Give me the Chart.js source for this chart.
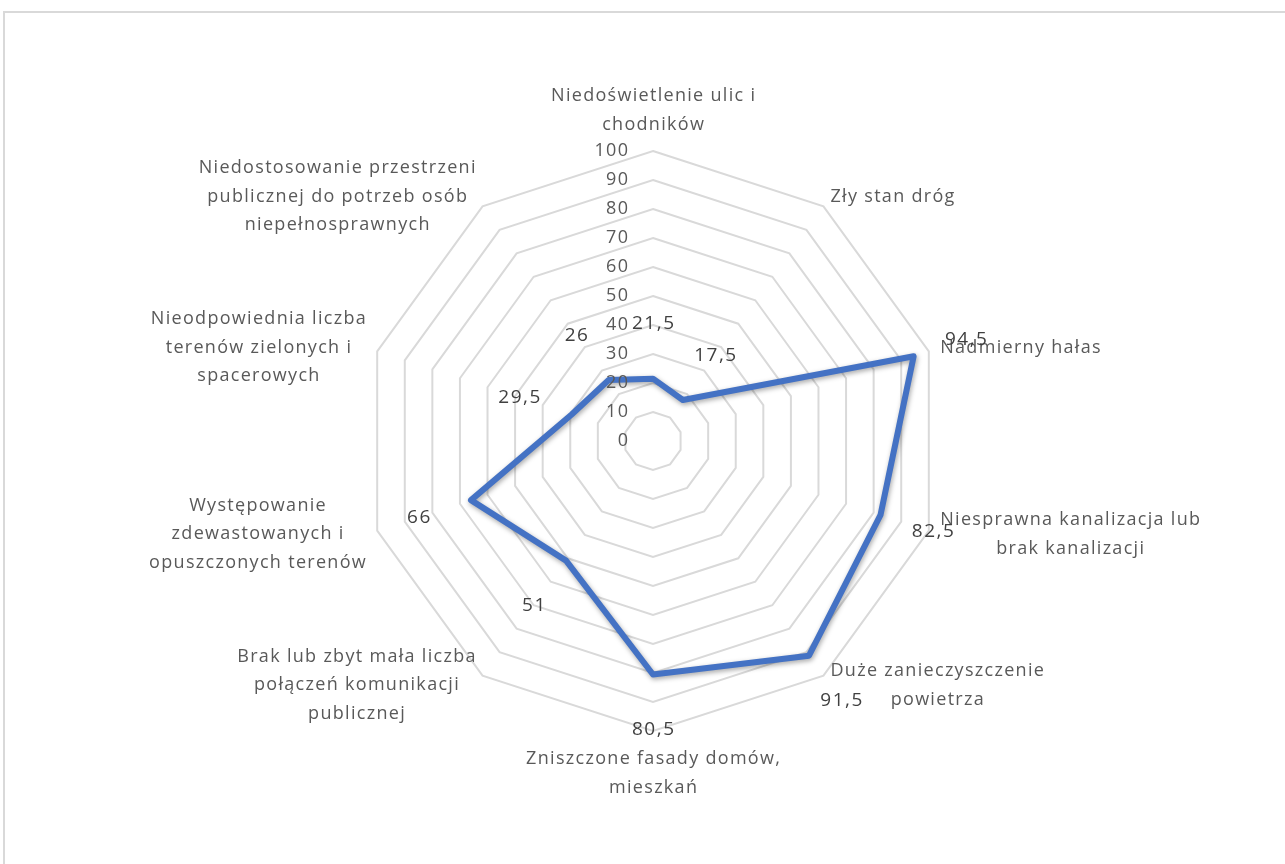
<!DOCTYPE html>
<html>
<head>
<meta charset="utf-8">
<script src="https://cdn.jsdelivr.net/npm/chart.js@4.4.1/dist/chart.umd.min.js"></script>
<style>
  html, body { margin: 0; padding: 0; background: #fff; }
  #wrap { position: relative; width: 1285px; height: 864px; overflow: hidden; }
  #frame { position: absolute; left: 3px; top: 11px; width: 1400px; height: 1000px; border: 2px solid #d9d9d9; box-sizing: border-box; }
  canvas { position: absolute; left: 0; top: 0; }
</style>
</head>
<body>
<div id="wrap">
  <div id="frame"></div>
  <canvas id="c" width="1285" height="864"></canvas>
</div>
<script>
const categories = [
  ["Niedoświetlenie ulic i", "chodników"],
  ["Zły stan dróg"],
  ["Nadmierny hałas"],
  ["Niesprawna kanalizacja lub", "brak kanalizacji"],
  ["Duże zanieczyszczenie", "powietrza"],
  ["Zniszczone fasady domów,", "mieszkań"],
  ["Brak lub zbyt mała liczba", "połączeń komunikacji", "publicznej"],
  ["Występowanie", "zdewastowanych i", "opuszczonych terenów"],
  ["Nieodpowiednia liczba", "terenów zielonych i", "spacerowych"],
  ["Niedostosowanie przestrzeni", "publicznej do potrzeb osób", "niepełnosprawnych"]
];
const values = [21.5, 17.5, 94.5, 82.5, 91.5, 80.5, 51, 66, 29.5, 26];
const tickValues = [0, 10, 20, 30, 40, 50, 60, 70, 80, 90, 100];

const FONT = '"Open Sans", "Liberation Sans", sans-serif';

function drawSpaced(ctx, text, x, y, align, spacing) {
  // draws text with letter spacing, aligned 'left' | 'center' | 'right'
  ctx.letterSpacing = spacing + 'px';
  const w = ctx.measureText(text).width - spacing;
  let sx = x;
  if (align === 'center') sx = x - w / 2;
  else if (align === 'right') sx = x - w;
  ctx.textAlign = 'left';
  ctx.fillText(text, sx, y);
  ctx.letterSpacing = '0px';
  return w;
}
function spacedWidth(ctx, text, spacing) {
  ctx.letterSpacing = spacing + 'px';
  const w = ctx.measureText(text).width - spacing;
  ctx.letterSpacing = '0px';
  return w;
}

const labelsPlugin = {
  id: 'customLabels',
  beforeDatasetDraw(chart) {
    const ctx = chart.ctx;
    ctx.save();
    ctx.shadowColor = 'rgba(0,0,0,0.35)';
    ctx.shadowBlur = 5;
    ctx.shadowOffsetX = 1;
    ctx.shadowOffsetY = 2;
  },
  afterDatasetDraw(chart) {
    chart.ctx.restore();
  },
  afterDraw(chart) {
    const ctx = chart.ctx;
    const scale = chart.scales.r;
    ctx.save();
    ctx.textBaseline = 'middle';
    // tick labels
    ctx.font = '18px ' + FONT;
    ctx.fillStyle = '#595959';
    tickValues.forEach(v => {
      const d = scale.getDistanceFromCenterForValue(v);
      drawSpaced(ctx, String(v), scale.xCenter - 25, scale.yCenter - d, 'right', 1.3);
    });
    // category labels
    const lh = 28.5;
    const sp = 1.3;
    categories.forEach((lines, i) => {
      const p = scale.getPointPosition(i, scale.drawingArea + 12);
      const ang = (Math.PI * 2 * i) / categories.length;
      const s = Math.sin(ang), c = Math.cos(ang);
      const n = lines.length;
      const maxW = Math.max(...lines.map(l => spacedWidth(ctx, l, sp)));
      let cx, top;
      if (Math.abs(s) < 0.01) {
        cx = p.x;
        top = c > 0 ? p.y - n * lh : p.y + 2;
      } else {
        cx = s > 0 ? p.x + maxW / 2 : p.x - maxW / 2;
        top = p.y - (n * lh) / 2;
      }
      ctx.fillStyle = '#595959';
      lines.forEach((l, k) => drawSpaced(ctx, l, cx, top + lh * (k + 0.5), 'center', sp));
    });
    // data labels
    ctx.fillStyle = '#404040';
    ctx.font = '19px ' + FONT;
    values.forEach((v, i) => {
      const d = scale.getDistanceFromCenterForValue(v);
      const p = scale.getPointPosition(i, d + 55);
      drawSpaced(ctx, String(v).replace('.', ','), p.x, p.y, 'center', 1.5);
    });
    ctx.restore();
  }
};

new Chart(document.getElementById('c'), {
  type: 'radar',
  data: {
    labels: categories,
    datasets: [{
      data: values,
      borderColor: '#4472C4',
      borderWidth: 6,
      fill: false,
      pointRadius: 0,
      pointHoverRadius: 0,
      tension: 0,
      borderJoinStyle: 'round'
    }]
  },
  options: {
    responsive: false,
    animation: false,
    events: [],
    layout: { padding: { left: 363, right: 342, top: 151, bottom: 133 } },
    plugins: { legend: { display: false }, tooltip: { enabled: false } },
    scales: {
      r: {
        min: 0,
        max: 100,
        beginAtZero: true,
        ticks: { display: false, stepSize: 10 },
        grid: { color: '#d9d9d9', lineWidth: 2 },
        angleLines: { display: false },
        pointLabels: { display: false }
      }
    }
  },
  plugins: [labelsPlugin]
});
</script>
</body>
</html>
